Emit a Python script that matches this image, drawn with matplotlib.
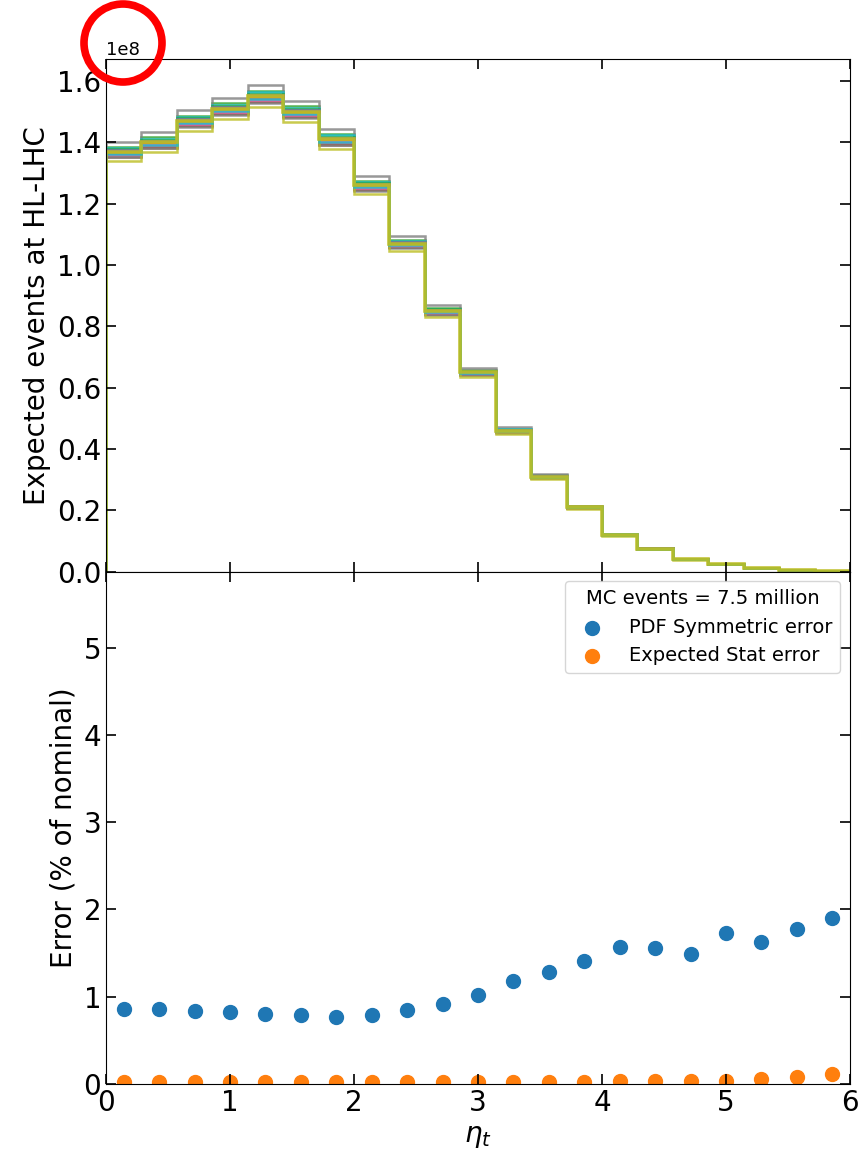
import matplotlib
matplotlib.use("Agg")
import matplotlib.pyplot as plt
from matplotlib.patches import Ellipse
import numpy as np

# 21 bins in eta_t between 0 and 6
eta_edges = np.linspace(0, 6, 22)
eta_centers = 0.5 * (eta_edges[:-1] + eta_edges[1:])

# nominal expected events per bin (x 1e8)
nominal = [1.370, 1.400, 1.470, 1.510, 1.550, 1.500, 1.410, 1.260, 1.070, 0.850,
           0.650, 0.460, 0.310, 0.210, 0.120, 0.075, 0.040, 0.025, 0.012, 0.006, 0.002]

# shift of each PDF member relative to nominal, in percent
member_shift_pct = [-0.3, -0.9, 1.2, -0.6, 0.0, -0.4, -0.2, 2.4, 0.3, 0.9,
                    0.2, -0.1, 0.6, -1.0, 0.4, -1.2, -0.7, -1.4, -2.3, -0.5]

pdf_sym_err = [0.86, 0.86, 0.84, 0.83, 0.80, 0.79, 0.77, 0.79, 0.85, 0.92, 1.02,
               1.18, 1.28, 1.41, 1.57, 1.56, 1.49, 1.73, 1.63, 1.78, 1.90]
stat_err = [0.02, 0.02, 0.02, 0.02, 0.02, 0.02, 0.02, 0.02, 0.02, 0.02, 0.02,
            0.02, 0.02, 0.02, 0.03, 0.03, 0.03, 0.04, 0.06, 0.08, 0.12]


def main():
    plt.rcParams['font.size'] = 20
    fig, (ax1, ax2) = plt.subplots(2, 1, sharex=True, figsize=(8.61, 11.53), dpi=100)
    fig.subplots_adjust(left=0.1231, right=0.9872, top=0.9488, bottom=0.0598, hspace=0)

    nom = np.array(nominal) * 1e8
    colors = plt.rcParams['axes.prop_cycle'].by_key()['color']
    for i, s in enumerate(member_shift_pct):
        ax1.stairs(nom * (1 + s / 100.0), eta_edges, baseline=0,
                   color=colors[i % len(colors)], lw=1.8, alpha=0.8)
    ax1.stairs(nom, eta_edges, baseline=0, color='tab:olive', lw=2.6, alpha=0.9)
    ax1.set_ylim(0, 1.672e8)
    ax1.set_ylabel("Expected events at HL-LHC")
    ax1.yaxis.get_offset_text().set_fontsize(13)

    ax2.scatter(eta_centers, pdf_sym_err, s=100, color='#1f77b4', label="PDF Symmetric error")
    ax2.scatter(eta_centers, stat_err, s=100, color='#ff7f0e', label="Expected Stat error")
    ax2.set_ylim(0, 5.87)
    ax2.set_xlim(0, 6)
    ax2.set_yticks([0, 1, 2, 3, 4, 5])
    ax2.set_xticks([0, 1, 2, 3, 4, 5, 6])
    ax2.set_ylabel("Error (% of nominal)")
    ax2.set_xlabel(r"$\eta_t$")
    ax2.legend(title="MC events = 7.5 million", loc='upper right', fontsize=14,
               title_fontsize=14, handletextpad=0.9)

    for ax in (ax1, ax2):
        ax.tick_params(direction='in', top=True, right=True, length=7, width=1.2)

    # red circle drawn round the offset text
    fig.patches.append(Ellipse((123 / 861, 1 - 43 / 1153), 78 / 861, 78 / 1153,
                               transform=fig.transFigure, fill=False,
                               edgecolor='red', lw=5.5))

    plt.savefig("out.png", dpi=100)
    plt.close()


if __name__ == '__main__':
    main()
